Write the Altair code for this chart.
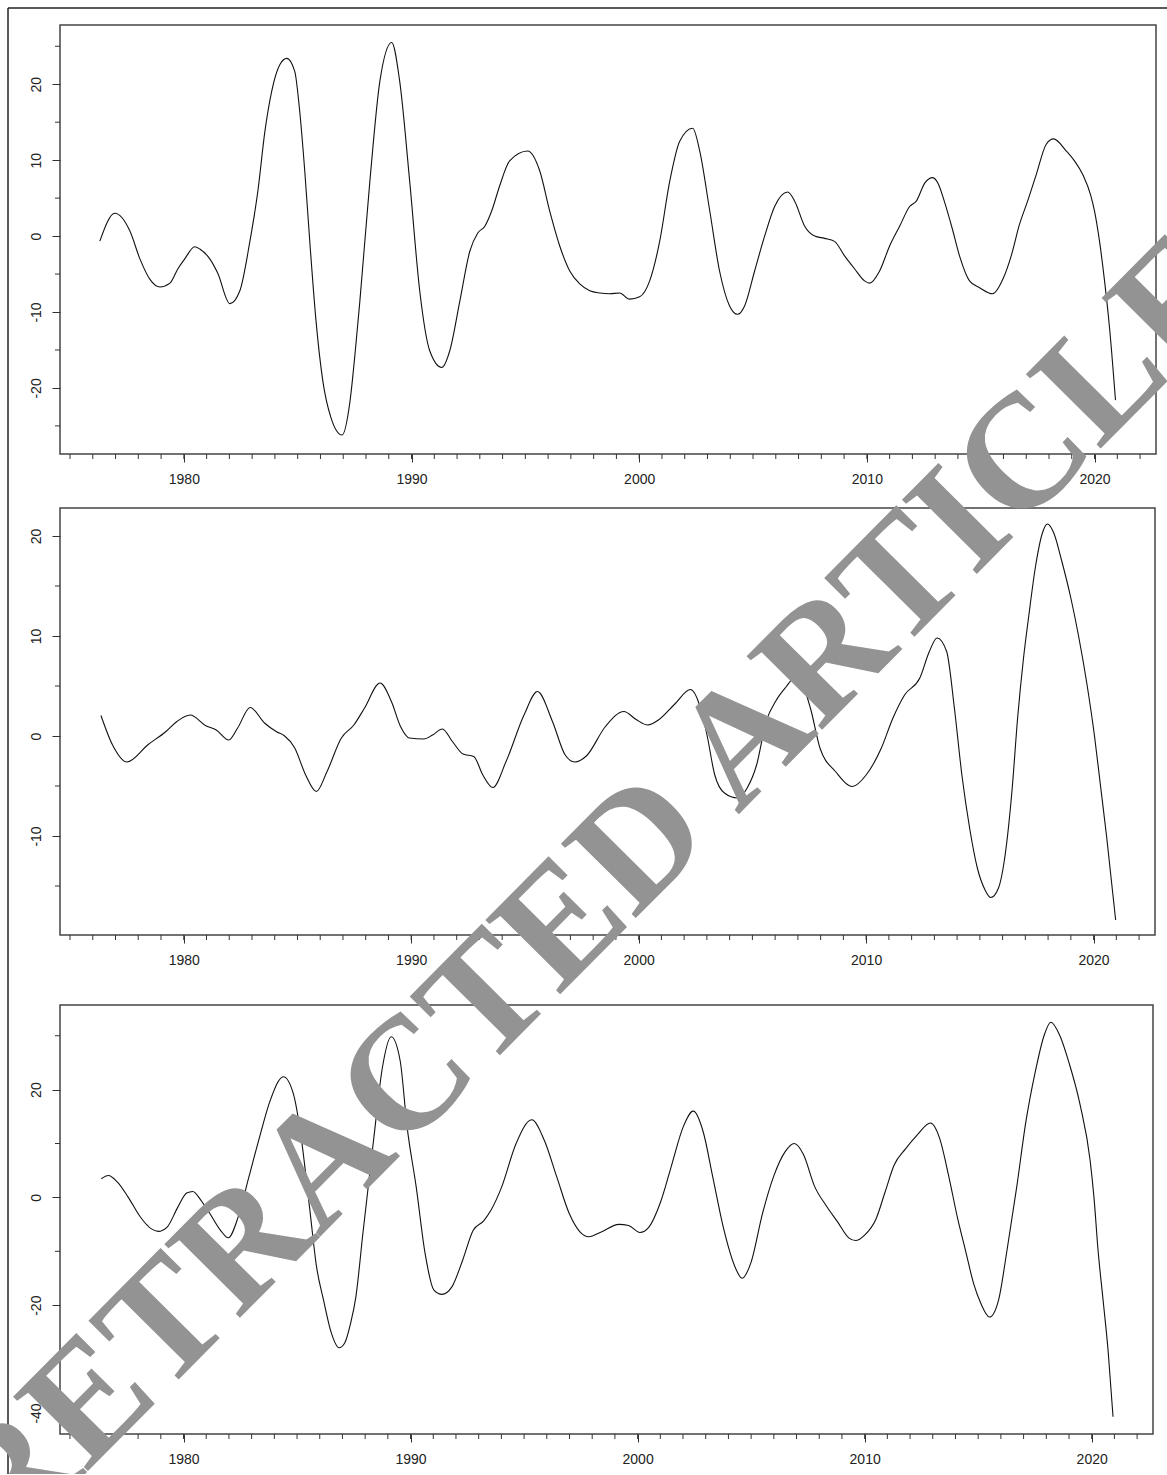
import altair as alt
import pandas as pd

# ---------------- data ----------------
p1_t = [1976.31, 1976.97, 1977.63, 1978.07, 1978.51, 1978.95, 1979.39, 1979.74, 1980.04, 1980.48,
        1980.7, 1981.14, 1981.49, 1982.02, 1982.46, 1982.9, 1983.25, 1983.56, 1983.86, 1984.22,
        1984.52, 1984.87, 1985.09, 1985.31, 1985.55, 1985.8, 1986.1, 1986.45, 1986.95, 1987.3,
        1987.55, 1987.73, 1988.17, 1988.61, 1989.13, 1989.48, 1989.92, 1990.36, 1990.8, 1991.33, 1991.68,
        1992.12, 1992.56, 1992.91, 1993.22, 1993.52, 1993.87, 1994.31, 1995.1, 1995.63, 1996.07,
        1996.51, 1996.95, 1997.39, 1997.83, 1998.27, 1998.7, 1999.14, 1999.58, 2000.02, 2000.46,
        2000.9, 2001.34, 2001.78, 2002.35, 2002.66, 2003.1, 2003.53, 2003.97, 2004.32, 2004.63,
        2005.07, 2005.51, 2005.95, 2006.52, 2006.83, 2007.27, 2007.71, 2008.14, 2008.58, 2009.02,
        2009.46, 2009.9, 2010.12, 2010.56, 2011.0, 2011.44, 2011.88, 2012.17, 2012.55, 2012.89,
        2013.15, 2013.4, 2013.75, 2014.07, 2014.51, 2014.95, 2015.52, 2016.0, 2016.35, 2016.7,
        2017.06, 2017.44, 2017.88, 2018.2, 2018.76, 2019.12, 2019.5, 2019.82, 2020.0, 2020.22,
        2020.44, 2020.66, 2020.92]
p1_v = [-0.66, 3.0, 0.66, -3.0, -5.7, -6.7, -6.2, -4.3, -3.0, -1.4,
        -1.7, -3.0, -4.9, -8.9, -7.2, -0.7, 5.9, 13.8, 19.1, 22.6,
        23.4, 21.7, 16.4, 8.6, -1.5, -11.0, -19.0, -23.8, -26.2, -21.7,
        -14.5, -8.6, 7.2, 20.4, 25.5, 20.4, 7.2, -7.2, -15.1, -17.3, -15.1,
        -8.6, -2.0, 0.4, 1.3, 3.3, 6.6, 9.9, 11.2, 8.6, 3.3,
        -1.3, -4.6, -6.3, -7.2, -7.5, -7.6, -7.5, -8.3, -8.0, -5.9,
        -0.7, 7.2, 12.5, 14.2, 11.2, 3.3, -4.6, -9.2, -10.3, -9.2,
        -4.6, 0.0, 3.9, 5.8, 4.6, 1.3, 0.0, -0.3, -0.7, -2.6,
        -4.3, -5.9, -6.2, -4.6, -1.3, 1.3, 3.9, 4.6, 7.0, 7.7,
        6.8, 4.6, 1.0, -2.6, -5.9, -6.8, -7.6, -5.5, -2.5, 1.5,
        4.6, 8.1, 12.1, 12.8, 11.2, 9.9, 8.0, 5.5, 3.3, -0.7,
        -5.9, -12.1, -21.6]

p2_t = [1976.36, 1976.86, 1977.5, 1978.44, 1979.22, 1979.7, 1980.29, 1980.95, 1981.43, 1981.98,
        1982.37, 1982.92, 1983.55, 1984.1, 1984.41, 1984.88, 1985.36, 1985.83, 1986.3, 1986.93,
        1987.48, 1987.95, 1988.63, 1989.13, 1989.53, 1989.92, 1990.55, 1990.94, 1991.37, 1991.81,
        1992.28, 1992.75, 1993.15, 1993.59, 1994.17, 1994.96, 1995.55, 1996.21, 1996.77, 1997.19,
        1997.7, 1998.54, 1999.35, 1999.89, 2000.4, 2000.9, 2001.57, 2002.28, 2002.67, 2003.0,
        2003.34, 2003.77, 2004.35, 2004.77, 2005.19, 2005.61, 2006.03, 2006.46, 2006.95, 2007.55,
        2007.97, 2008.65, 2009.4, 2010.0, 2010.67, 2011.18, 2011.69, 2012.36, 2012.78, 2013.12,
        2013.54, 2013.88, 2014.21, 2014.55, 2014.89, 2015.23, 2015.48, 2015.82, 2016.07, 2016.41,
        2016.66, 2016.92, 2017.15, 2017.45, 2017.75, 2017.97, 2018.25, 2018.6, 2019.0, 2019.34,
        2019.7, 2020.04, 2020.3, 2020.57, 2020.97]
p2_v = [2.05, -0.85, -2.6, -0.85, 0.45, 1.45, 2.1, 1.05, 0.6, -0.4,
        0.8, 2.85, 1.3, 0.4, 0.05, -1.2, -3.9, -5.55, -3.55, -0.2,
        1.1, 2.8, 5.3, 3.45, 0.95, -0.2, -0.3, 0.1, 0.7, -0.55,
        -1.8, -2.05, -3.9, -5.15, -2.55, 2.1, 4.45, 1.45, -1.9, -2.6,
        -2.0, 0.95, 2.45, 1.65, 1.1, 1.65, 3.15, 4.65, 3.15, 0.15,
        -3.85, -5.7, -6.2, -5.2, -2.85, 1.5, 3.5, 4.85, 6.0, 2.8,
        -1.2, -3.55, -5.05, -3.9, -1.2, 1.8, 4.1, 5.8, 8.45, 9.8,
        8.45, 2.8, -3.9, -9.2, -13.2, -15.4, -16.15, -15.2, -12.55, -5.55,
        1.8, 7.8, 12.0, 17.0, 20.3, 21.2, 20.3, 17.5, 13.8, 10.0,
        5.3, 0.0, -4.9, -10.0, -18.4]

p3_t = [1976.38, 1976.69, 1977.09, 1977.56, 1978.1, 1978.57, 1978.89, 1979.28, 1979.75, 1980.14,
        1980.41, 1980.77, 1981.16, 1981.63, 1981.97, 1982.41, 1982.88, 1983.35, 1983.82, 1984.4,
        1984.84, 1985.16, 1985.55, 1985.86, 1986.17, 1986.5, 1986.85, 1987.1, 1987.35, 1987.59,
        1987.9, 1988.37, 1988.76, 1989.15, 1989.54, 1989.85, 1990.25, 1990.64, 1991.03, 1991.38,
        1991.82, 1992.29, 1992.76, 1993.23, 1993.54, 1994.01, 1994.64, 1995.34, 1995.89, 1996.44,
        1996.99, 1997.46, 1997.85, 1998.4, 1999.18, 1999.6, 2000.1, 2000.5, 2001.0, 2001.5,
        2002.0, 2002.45, 2002.9, 2003.3, 2003.8, 2004.3, 2004.6, 2005.0, 2005.5, 2006.0,
        2006.5, 2006.9, 2007.3, 2007.8, 2008.3, 2008.8, 2009.3, 2009.6, 2010.0, 2010.5,
        2010.9, 2011.3, 2011.8, 2012.3, 2012.9, 2013.3, 2013.7, 2014.1, 2014.45, 2014.8,
        2015.1, 2015.5, 2015.9, 2016.27, 2016.7, 2017.1, 2017.5, 2017.9, 2018.2, 2018.6,
        2019.0, 2019.5, 2019.93, 2020.1, 2020.28, 2020.5, 2020.72, 2020.94]
p3_v = [3.45, 4.07, 2.84, 0.06, -3.64, -5.8, -6.3, -5.5, -1.8, 0.8,
        1.1, -0.55, -3.0, -6.1, -7.5, -3.6, 3.8, 11.2, 18.0, 22.4,
        19.2, 11.8, -1.8, -12.9, -19.1, -25.0, -27.9, -27.0, -23.5, -18.5,
        -6.7, 10.6, 24.1, 29.8, 25.4, 13.0, 1.9, -10.4, -17.2, -18.0,
        -16.6, -11.7, -6.1, -4.3, -2.4, 1.9, 9.9, 14.4, 10.6, 3.8,
        -3.0, -6.4, -7.3, -6.4, -5.0, -5.2, -6.5, -5.5, -1.0, 6.0,
        13.0, 16.0, 12.0, 4.0, -6.0, -13.0, -15.0, -12.0, -3.0, 4.0,
        8.5, 10.0, 8.0, 2.0, -1.5, -4.5, -7.5, -8.0, -7.0, -4.0,
        1.0, 6.0, 9.0, 11.5, 13.8, 11.0, 4.0, -4.0, -10.0, -16.0,
        -19.5, -22.2, -19.0, -9.8, 2.0, 14.0, 23.0, 30.0, 32.5, 30.0,
        25.0, 17.0, 6.9, 0.0, -9.8, -19.0, -28.3, -40.7]

x_major = [1980, 1990, 2000, 2010, 2020]
x_minor = list(range(1975, 2023))
x_domain = [1974.56, 2022.7]

p1_y_major = [-20, -10, 0, 10, 20]
p1_y_minor = [-25, -15, -5, 5, 15, 25]
p1_y_domain = [-28.7, 27.8]

p2_y_major = [-10, 0, 10, 20]
p2_y_minor = [-15, -5, 5, 15]
p2_y_domain = [-19.9, 22.8]

p3_y_major = [-40, -20, 0, 20]
p3_y_minor = [-30, -10, 10, 30]
p3_y_domain = [-43.9, 35.7]

watermark = ["RETRACTED ARTICLE"]

# ---------------- styling ----------------
FONT = "Liberation Sans"
INK = "#222222"


def panel(t, v, ymaj, ymin, ydom, w, h, extra=()):
    xax = alt.Axis(values=x_major, labelExpr="datum.value + ''", tickSize=8, labelPadding=10,
                   domain=False, grid=False, title="", labelFont=FONT, labelFontSize=14,
                   labelColor=INK, tickColor="#333333", tickWidth=1)
    yax = alt.Axis(values=ymaj, labelExpr="datum.value + ''", tickSize=8, labelPadding=9,
                   labelAngle=270, domain=False, grid=False, title="", labelFont=FONT,
                   labelFontSize=14, labelColor=INK, tickColor="#333333", tickWidth=1)
    xs = alt.Scale(domain=x_domain, nice=False, zero=False)
    ys = alt.Scale(domain=ydom, nice=False, zero=False)

    line = alt.Chart(pd.DataFrame({"t": t, "v": v})).mark_line(
        color="#111111", strokeWidth=1.1, interpolate="monotone"
    ).encode(x=alt.X("t:Q", scale=xs, axis=xax), y=alt.Y("v:Q", scale=ys, axis=yax))

    xm = alt.Chart(pd.DataFrame({"t": x_minor})).mark_rule(color="#333333", strokeWidth=1).encode(
        x=alt.X("t:Q", scale=xs, axis=xax), y=alt.value(h), y2=alt.value(h + 5))

    ym = alt.Chart(pd.DataFrame({"v": ymin})).mark_rule(color="#333333", strokeWidth=1).encode(
        y=alt.Y("v:Q", scale=ys, axis=yax), x=alt.value(0), x2=alt.value(-5))

    return alt.layer(line, xm, ym, *extra).properties(width=w, height=h)


def spacer(h):
    return alt.Chart(pd.DataFrame({"k": [0]})).mark_point(opacity=0).encode(
        x=alt.value(0), y=alt.value(0)
    ).properties(width=10, height=h, view=alt.ViewBackground(strokeOpacity=0, strokeWidth=0))


# outer border of the figure (left and top edges)
border_df = pd.DataFrame({"k": [0]})
border_left = alt.Chart(border_df).mark_rule(color=INK, strokeWidth=1.5).encode(
    x=alt.value(-52), y=alt.value(-17), y2=alt.value(1460))
border_top = alt.Chart(border_df).mark_rule(color=INK, strokeWidth=1.5).encode(
    x=alt.value(-52), x2=alt.value(1120), y=alt.value(-17))

# watermark over everything (drawn in the last panel, unclipped)
wm = alt.Chart(pd.DataFrame({"s": watermark})).mark_text(
    font="Liberation Serif", fontWeight="bold", fontSize=161, color="#939393",
    angle=314.73, align="center", baseline="middle"
).encode(text="s:N", x=alt.value(533), y=alt.value(-112))

p1 = panel(p1_t, p1_v, p1_y_major, p1_y_minor, p1_y_domain, 1096, 429, extra=(border_left, border_top))
p2 = panel(p2_t, p2_v, p2_y_major, p2_y_minor, p2_y_domain, 1095, 427)
p3 = panel(p3_t, p3_v, p3_y_major, p3_y_minor, p3_y_domain, 1093, 429, extra=(wm,))

chart = alt.vconcat(p1, spacer(54), p2, spacer(70), p3, spacing=0, bounds="flush").properties(
    padding={"left": -92, "top": 6, "right": -110, "bottom": -109},
    background="white",
).configure_view(stroke="#444444", strokeWidth=1.5)

chart.save("out.html", embed_options={"renderer": "svg", "actions": False})
